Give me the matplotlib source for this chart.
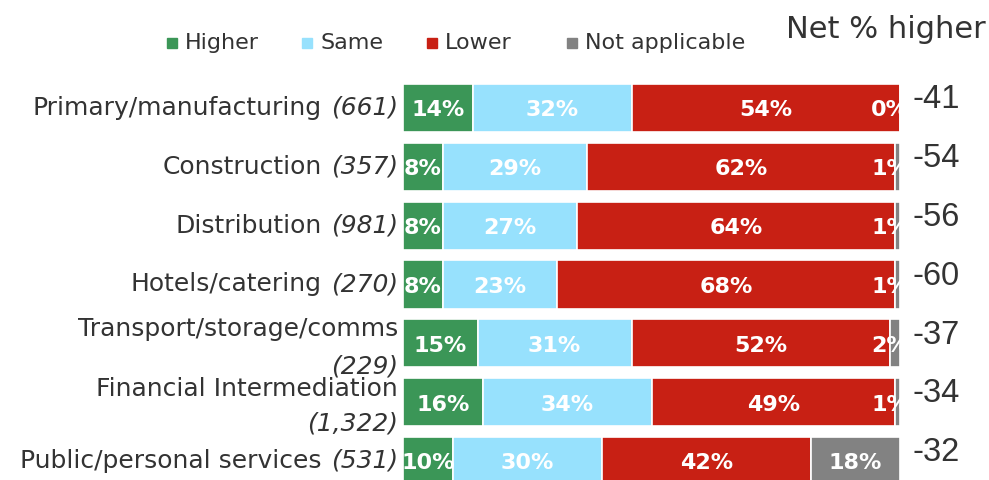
import matplotlib.pyplot as plt
from matplotlib.patches import Rectangle
from matplotlib import transforms

plt.rcParams['font.family'] = ['DejaVu Sans']

# data
sectors = ['Primary/manufacturing', 'Construction', 'Distribution', 'Hotels/catering',
           'Transport/storage/comms', 'Financial Intermediation', 'Public/personal services']
bases = ['(661)', '(357)', '(981)', '(270)', '(229)', '(1,322)', '(531)']
two_line = [False, False, False, False, True, True, False]
higher = [14, 8, 8, 8, 15, 16, 10]
same = [32, 29, 27, 23, 31, 34, 30]
lower = [54, 62, 64, 68, 52, 49, 42]
not_app = [0, 1, 1, 1, 2, 1, 18]
net = [-41, -54, -56, -60, -37, -34, -32]

series = [('Higher', higher, '#3b9657'), ('Same', same, '#97e1fd'),
          ('Lower', lower, '#c82014'), ('Not applicable', not_app, '#828282')]

fig = plt.figure(figsize=(9.89, 4.8), dpi=100)
ax = fig.add_axes([403 / 989, -0.0217, 497 / 989, 0.858])

y = list(range(len(sectors)))
left = [0] * len(sectors)
for name, vals, col in series:
    ax.barh(y, vals, left=left, height=0.82, color=col, edgecolor='white', linewidth=1.2)
    for i, v in enumerate(vals):
        # tiny segments: label pushed inside the plot edge and clipped there
        xpos = left[i] + v / 2 if v >= 5 else 98
        ax.text(xpos, i + 0.04, f'{v}%', ha='center', va='center', color='white',
                fontsize=16, fontweight='bold', clip_on=True)
    left = [l + v for l, v in zip(left, vals)]

ax.set_xlim(0, 100)
ax.set_ylim(6.5, -0.5)
ax.axis('off')

# category labels with italic base sizes
fig.canvas.draw()
renderer = fig.canvas.get_renderer()
lab_col = '#333333'
lab_fs = 18
tr = ax.get_yaxis_transform()
xoff = transforms.offset_copy(tr, fig=fig, x=-5, y=0, units='dots')
line_pos = {4: (-0.24, 0.40), 5: (-0.22, 0.36)}
for i, (s, b) in enumerate(zip(sectors, bases)):
    if two_line[i]:
        y1, y2 = line_pos[i]
        ax.text(0, i + y1, s, transform=xoff, ha='right', va='center', fontsize=lab_fs, color=lab_col)
        ax.text(0, i + y2, b, transform=xoff, ha='right', va='center', fontsize=lab_fs,
                style='italic', color=lab_col)
    else:
        it = ax.text(0, i, b, transform=xoff, ha='right', va='center', fontsize=lab_fs,
                     style='italic', color=lab_col)
        w = it.get_window_extent(renderer).width
        off2 = transforms.offset_copy(tr, fig=fig, x=-5 - w - 9, y=0, units='dots')
        ax.text(0, i, s, transform=off2, ha='right', va='center', fontsize=lab_fs, color=lab_col)

# net % higher column
for i, n in enumerate(net):
    ax.text(1.025, i - 0.14, f'{n}', transform=tr, ha='left', va='center',
            fontsize=23.5, color='#333333', family='Liberation Sans')
fig.text(786 / 989, 1 - 30 / 480, 'Net % higher', ha='left', va='center',
         fontsize=22, color='#333333')

# legend
leg_x = [167, 302, 427, 567]
for (name, _, col), lx in zip(series, leg_x):
    fig.patches.append(Rectangle((lx / 989, 1 - 48 / 480), 10 / 989, 10 / 480,
                                 transform=fig.transFigure, color=col))
    fig.text((lx + 18) / 989, 1 - 43 / 480, name, ha='left', va='center',
             fontsize=16, color='#333333')

fig.savefig('out.png', dpi=100)
